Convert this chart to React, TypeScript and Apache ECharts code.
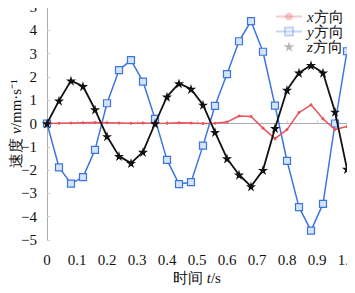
import React, { useEffect, useRef } from "react";
import * as echarts from "echarts";

const tValues = [0, 0.04, 0.08, 0.12, 0.16, 0.2, 0.24, 0.28, 0.32, 0.36, 0.4, 0.44, 0.48, 0.52, 0.56, 0.6, 0.64, 0.68, 0.72, 0.76, 0.8, 0.84, 0.88, 0.92, 0.96, 1.0];
const xDir = [0, 0.01, 0.02, 0.03, 0.04, 0.03, 0.02, 0.01, 0.02, 0.0, 0.01, 0.03, 0.02, 0.0, 0.01, 0.06, 0.32, 0.3, -0.2, -0.65, -0.26, 0.47, 0.8, 0.2, -0.26, -0.13];
const yDir = [0, -1.88, -2.58, -2.3, -1.13, 0.87, 2.29, 2.72, 1.8, 0.2, -1.56, -2.6, -2.52, -0.95, 0.76, 2.12, 3.53, 4.39, 3.08, 0.77, -1.6, -3.59, -4.6, -3.45, 0.0, 3.1];
const zDir = [0, 0.98, 1.84, 1.6, 0.6, -0.55, -1.4, -1.7, -1.22, 0.0, 1.15, 1.72, 1.48, 0.8, -0.37, -1.5, -2.2, -2.7, -2.0, -0.2, 1.44, 2.18, 2.5, 2.18, 0.5, -1.95];
const seriesNames = ["x方向", "y方向", "z方向"];

const FONT = "Liberation Serif";
const STAR = "path://M50,0 L61,35 L98,35 L68,57 L79,91 L50,70 L21,91 L32,57 L2,35 L39,35 Z";

const pair = (vals: number[]) => tValues.map((t, i) => [t, vals[i]]);

export default function App() {
  const ref = useRef<HTMLDivElement>(null);
  useEffect(() => {
    if (!ref.current) return;
    const chart = echarts.init(ref.current, null, { renderer: "svg" });
    chart.setOption({
      animation: false,
      backgroundColor: "#fff",
      textStyle: { fontFamily: FONT },
      grid: { left: 47, right: 8, top: 7, bottom: 53, containLabel: false, outerBoundsMode: "none" },
      legend: {
        left: 270,
        top: 4,
        orient: "vertical",
        itemGap: 0,
        itemWidth: 26,
        itemHeight: 10,
        textStyle: {
          fontFamily: FONT,
          fontSize: 15,
          color: "#111",
          rich: {
            i: { fontFamily: FONT, fontStyle: "italic", fontSize: 15, color: "#111" },
            c: { fontFamily: FONT, fontSize: 15, color: "#111" },
          },
        },
        formatter: (name: string) => `{i|${name.charAt(0)}}{c|${name.slice(1)}}`,
        data: [
          { name: seriesNames[0], itemStyle: { opacity: 0.3 }, lineStyle: { opacity: 0.3 } },
          { name: seriesNames[1], itemStyle: { opacity: 0.3 }, lineStyle: { opacity: 0.3 } },
          { name: seriesNames[2], icon: STAR, itemStyle: { color: "#999", opacity: 0.7 } },
        ],
      },
      xAxis: {
        type: "value",
        min: 0,
        max: 1,
        interval: 0.1,
        name: "时间 {i|t}/s",
        nameLocation: "middle",
        nameGap: 30,
        nameMoveOverlap: false,
        nameTextStyle: {
          fontFamily: FONT,
          fontSize: 15,
          color: "#111",
          rich: { i: { fontFamily: FONT, fontStyle: "italic", fontSize: 15, color: "#111" } },
        },
        axisLine: { show: true, lineStyle: { color: "#aaa", width: 1 } },
        axisTick: { show: true, inside: true, length: 3, lineStyle: { color: "#ccc" } },
        splitLine: { show: false },
        axisLabel: {
          margin: 12,
          fontFamily: FONT,
          fontSize: 15,
          color: "#111",
          formatter: (v: number) => (v === 0 ? "0" : v.toFixed(1)),
        },
      },
      yAxis: {
        type: "value",
        min: -5,
        max: 5,
        interval: 1,
        name: "速度 {i|v}/mm·s⁻¹",
        nameLocation: "middle",
        nameRotate: 90,
        nameGap: 24,
        nameMoveOverlap: false,
        nameTextStyle: {
          fontFamily: FONT,
          fontSize: 15,
          color: "#111",
          rich: { i: { fontFamily: FONT, fontStyle: "italic", fontSize: 15, color: "#111" } },
        },
        axisLine: { show: true, lineStyle: { color: "#aaa", width: 1 } },
        axisTick: { show: true, inside: true, length: 3, lineStyle: { color: "#ccc" } },
        splitLine: { show: false },
        axisLabel: {
          margin: 10,
          fontFamily: FONT,
          fontSize: 15,
          lineHeight: 13,
          color: "#111",
          formatter: (v: number) => (v < 0 ? "\u2212" + Math.abs(v) : String(v)),
        },
      },
      series: [
        {
          name: seriesNames[0],
          type: "line",
          data: pair(xDir),
          symbol: "circle",
          symbolSize: 3,
          lineStyle: { color: "#e8545c", width: 1.5 },
          itemStyle: { color: "#e8545c" },
          z: 3,
        },
        {
          name: seriesNames[1],
          type: "line",
          data: pair(yDir),
          symbol: "rect",
          symbolSize: 7,
          lineStyle: { color: "#3b76e0", width: 1.5 },
          itemStyle: { color: "#d6e3fa", borderColor: "#3b76e0", borderWidth: 1.2 },
          z: 2,
        },
        {
          name: seriesNames[2],
          type: "line",
          data: pair(zDir),
          symbol: STAR,
          symbolSize: 10,
          lineStyle: { color: "#111", width: 1.8 },
          itemStyle: { color: "#111" },
          z: 4,
        },
      ],
    });
    return () => chart.dispose();
  }, []);
  return <div ref={ref} style={{ width: 355, height: 293, margin: -8 }} />;
}
